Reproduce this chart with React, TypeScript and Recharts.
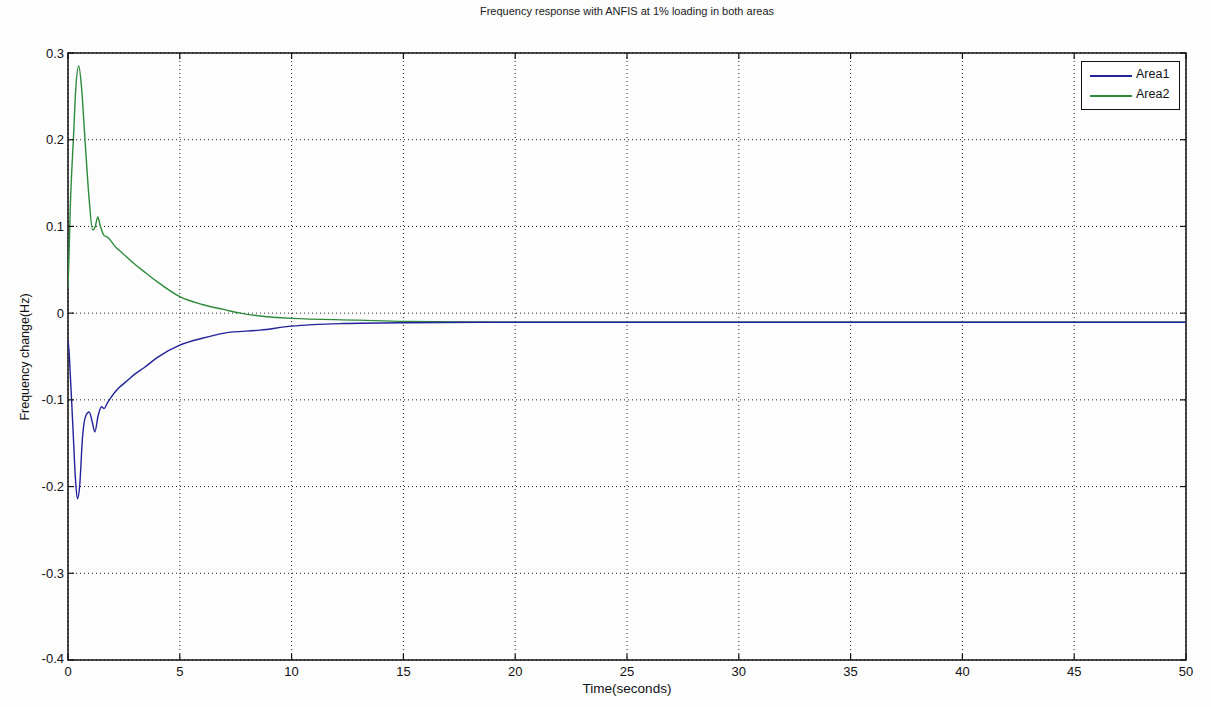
import { LineChart, Line, XAxis, YAxis, CartesianGrid, ReferenceArea } from 'recharts'

// Area1 (blue) trace
const area1Time = [0, 0.05, 0.1, 0.17, 0.24, 0.33, 0.42, 0.52, 0.65, 0.8, 0.95, 1.08, 1.2, 1.35, 1.5, 1.62, 1.75, 1.9, 2.2, 2.6, 3.0, 3.4, 4, 5, 6, 7, 8.6, 10, 12.3, 15, 20, 30, 50]
const area1Values = [-0.031, -0.045, -0.07, -0.105, -0.143, -0.19, -0.214, -0.2, -0.143, -0.118, -0.114, -0.125, -0.137, -0.118, -0.108, -0.11, -0.104, -0.098, -0.088, -0.079, -0.07, -0.063, -0.051, -0.037, -0.029, -0.023, -0.0196, -0.015, -0.012, -0.011, -0.0105, -0.0105, -0.0105]

// Area2 (green) trace
const area2Time = [0, 0.05, 0.1, 0.17, 0.24, 0.35, 0.48, 0.6, 0.76, 0.95, 1.1, 1.22, 1.33, 1.45, 1.6, 1.8, 2.1, 2.4, 3.0, 3.5, 4, 5, 6, 7, 7.7, 8.5, 10, 13, 15, 20, 30, 50]
const area2Values = [0.03, 0.07, 0.12, 0.165, 0.2, 0.26, 0.285, 0.262, 0.2, 0.13, 0.096, 0.1, 0.111, 0.1, 0.09, 0.087, 0.077, 0.07, 0.056, 0.046, 0.036, 0.019, 0.01, 0.004, 0.0, -0.003, -0.006, -0.008, -0.0095, -0.0105, -0.0105, -0.0105]

const xTicks = [0, 5, 10, 15, 20, 25, 30, 35, 40, 45, 50]
const yTicks = [-0.4, -0.3, -0.2, -0.1, 0, 0.1, 0.2, 0.3]

const W = 1211
const H = 707
const LEFT = 68
const TOP = 53
const RIGHT = 1186
const BOTTOM = 660
const PLOT_W = RIGHT - LEFT
const PLOT_H = BOTTOM - TOP
const FONT = '"Liberation Sans", Arial, sans-serif'
const BLUE = '#23239a'
const GREEN = '#2e8b3c'

const area1 = area1Time.map((t, i) => ({ t, v: area1Values[i] }))
const area2 = area2Time.map((t, i) => ({ t, v: area2Values[i] }))

const XTick = (props: any) => {
  const { x, y, payload } = props
  return (
    <g>
      <line x1={x} y1={y} x2={x} y2={y - 6} stroke="#111" strokeWidth={1.2} />
      <line x1={x} y1={y - PLOT_H} x2={x} y2={y - PLOT_H + 6} stroke="#111" strokeWidth={1.2} />
      <text x={x} y={y + 16} textAnchor="middle" fontSize={13} fontFamily={FONT} fill="#111">
        {payload.value}
      </text>
    </g>
  )
}

const YTick = (props: any) => {
  const { x, y, payload } = props
  return (
    <g>
      <line x1={x} y1={y} x2={x + 6} y2={y} stroke="#111" strokeWidth={1.2} />
      <line x1={x + PLOT_W} y1={y} x2={x + PLOT_W - 6} y2={y} stroke="#111" strokeWidth={1.2} />
      <text x={x - 4} y={payload.value === -0.4 ? y - 2 : y} dy="0.35em" textAnchor="end" fontSize={13} fontFamily={FONT} fill="#111">
        {String(payload.value)}
      </text>
    </g>
  )
}

export default function App() {
  return (
    <div style={{ position: 'absolute', left: 0, top: 0, width: W, height: H, background: '#fdfdfd', fontFamily: FONT }}>
      <div style={{ position: 'absolute', left: 0, width: LEFT + RIGHT, top: 5, textAlign: 'center', fontSize: 11, color: '#222' }}>
        Frequency response with ANFIS at 1% loading in both areas
      </div>
      <div style={{ position: 'absolute', left: 0, width: LEFT + RIGHT, top: 681, textAlign: 'center', fontSize: 13.5, color: '#111' }}>
        Time(seconds)
      </div>
      <div
        style={{
          position: 'absolute', left: 25, top: 357, fontSize: 12.5, color: '#111', whiteSpace: 'nowrap',
          transform: 'translate(-50%, -50%) rotate(-90deg)',
        }}
      >
        Frequency change(Hz)
      </div>

      <LineChart
        width={W}
        height={H}
        margin={{ top: TOP, left: LEFT - 40, right: W - RIGHT, bottom: H - BOTTOM - 30 }}
        style={{ position: 'absolute', left: 0, top: 0 }}
      >
        <CartesianGrid stroke="#222" strokeDasharray="1 3" strokeWidth={1} />
        <XAxis
          type="number"
          dataKey="t"
          domain={[0, 50]}
          ticks={xTicks}
          allowDataOverflow
          axisLine={false}
          tickLine={false}
          tickSize={0}
          tickMargin={0}
          height={30}
          tick={<XTick />}
          interval={0}
        />
        <YAxis
          type="number"
          domain={[-0.4, 0.3]}
          ticks={yTicks}
          allowDataOverflow
          axisLine={false}
          tickLine={false}
          tickSize={0}
          tickMargin={0}
          width={40}
          tick={<YTick />}
          interval={0}
        />
        <ReferenceArea x1={0} x2={50} y1={-0.4} y2={0.3} fill="none" stroke="#111" strokeWidth={1.5} ifOverflow="visible" />
        <Line data={area2} dataKey="v" type="monotone" stroke={GREEN} strokeWidth={1.4} dot={false} isAnimationActive={false} />
        <Line data={area1} dataKey="v" type="monotone" stroke={BLUE} strokeWidth={1.4} dot={false} isAnimationActive={false} />
      </LineChart>

      <div
        style={{
          position: 'absolute', left: 1081, top: 61, width: 97, height: 47, border: '1px solid #111',
          background: '#fff', fontSize: 12.5, color: '#111',
        }}
      >
        <div style={{ position: 'absolute', left: 8, top: 13, width: 42, height: 2, background: BLUE }} />
        <div style={{ position: 'absolute', left: 54, top: 5 }}>Area1</div>
        <div style={{ position: 'absolute', left: 8, top: 33, width: 42, height: 2, background: GREEN }} />
        <div style={{ position: 'absolute', left: 54, top: 25 }}>Area2</div>
      </div>
    </div>
  )
}
